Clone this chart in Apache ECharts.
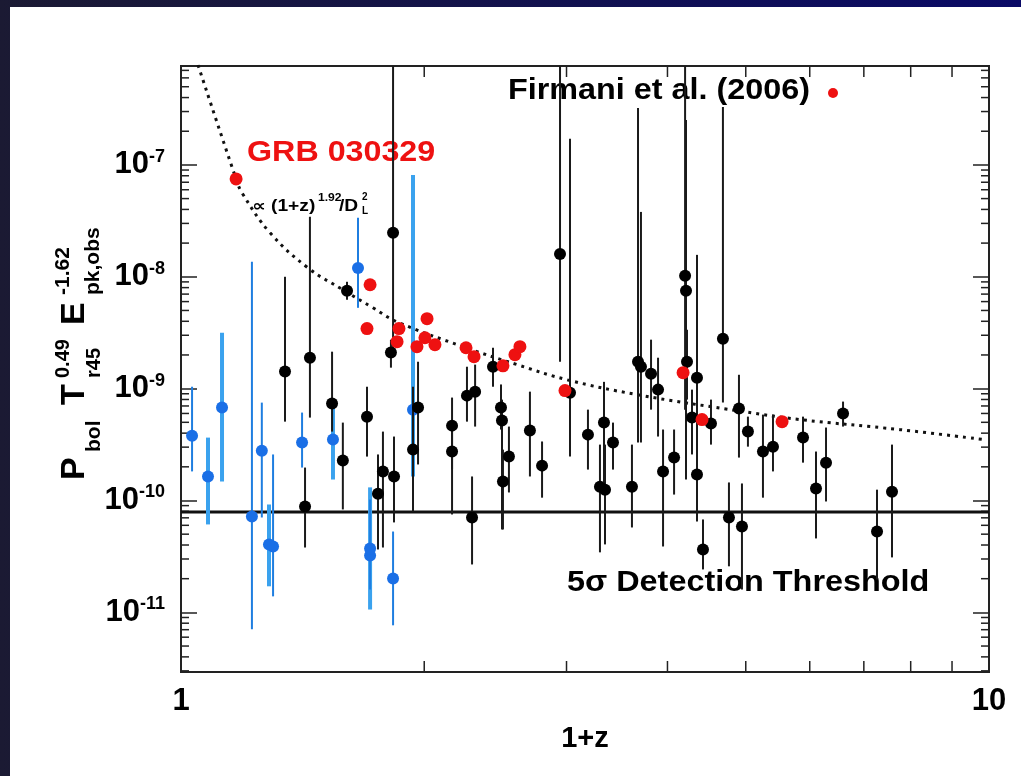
<!DOCTYPE html>
<html><head><meta charset="utf-8">
<script src="https://cdn.jsdelivr.net/npm/echarts@6/dist/echarts.min.js"></script>
<style>html,body{margin:0;padding:0;background:#fff}#c{width:1021px;height:776px}</style>
</head><body><div id="c"></div>
<script>
// ---- axis ranges & ticks ----
const X_MIN = 1, X_MAX = 10;
const Y_MIN = 2.93e-12, Y_MAX = 7.66e-7;
const xMinorTicks = [2, 3, 4, 5, 6, 7, 8, 9];
const yMinorTicks = [3e-12,4e-12,5e-12,6e-12,7e-12,8e-12,9e-12,
  2e-11,3e-11,4e-11,5e-11,6e-11,7e-11,8e-11,9e-11,
  2e-10,3e-10,4e-10,5e-10,6e-10,7e-10,8e-10,9e-10,
  2e-9,3e-9,4e-9,5e-9,6e-9,7e-9,8e-9,9e-9,
  2e-8,3e-8,4e-8,5e-8,6e-8,7e-8,8e-8,9e-8,
  2e-7,3e-7,4e-7,5e-7,6e-7,7e-7];

// ---- black points (with error bars) ----
const blackX  = [1.345,1.424,1.444,1.538,1.586,1.605,1.699,1.753,1.778,1.819,1.830,1.835,1.937,1.965,2.165,2.165,2.259,2.312,2.292,2.433,2.489,2.496,2.503,2.546,2.703,2.798,2.945,3.030,3.189,3.300,3.348,3.338,3.425,3.615,3.678,3.709,3.817,3.894,3.950,4.076,4.206,4.217,4.229,4.290,4.351,4.351,4.426,4.528,4.685,4.766,4.904,4.946,5.031,5.251,5.403,5.886,6.108,6.285,6.597,7.268,7.585];
const blackY  = [1.42e-9,8.84e-11,1.89e-9,7.35e-10,2.28e-10,7.50e-9,5.62e-10,1.15e-10,1.82e-10,2.10e-9,2.47e-8,1.64e-10,2.85e-10,6.77e-10,4.67e-10,2.74e-10,8.66e-10,9.40e-10,7.05e-11,1.57e-9,6.77e-10,5.18e-10,1.48e-10,2.47e-10,4.22e-10,2.05e-10,1.60e-8,9.21e-10,3.88e-10,1.33e-10,1.25e-10,4.97e-10,3.30e-10,1.33e-10,1.74e-9,1.57e-9,1.36e-9,9.80e-10,1.82e-10,2.42e-10,1.02e-8,7.50e-9,1.74e-9,5.51e-10,1.25e-9,1.71e-10,3.65e-11,4.87e-10,2.79e-9,7.05e-11,6.63e-10,5.86e-11,4.13e-10,2.74e-10,3.03e-10,3.65e-10,1.28e-10,2.18e-10,5.98e-10,5.28e-11,1.20e-10];
const blackHi = [1.0e-8,1.97e-10,3.44e-8,2.14e-9,4.97e-10,9.02e-9,1.04e-9,2.58e-10,4.13e-10,2.74e-9,1e-6,3.73e-10,1.04e-9,1.74e-9,8.32e-10,4.31e-10,1.57e-9,1.64e-9,1.64e-10,2.32e-9,1.09e-9,7.98e-10,2.85e-10,4.58e-10,9.40e-10,3.37e-10,1e-6,1.71e-7,6.49e-10,3.16e-10,3.16e-10,1.15e-9,4.97e-10,3.16e-10,3.23e-7,3.80e-8,2.74e-9,1.89e-9,4.31e-10,4.31e-10,1e-6,2.52e-7,3.36e-9,9.80e-10,1.57e-8,3.16e-10,6.77e-11,7.98e-10,3.30e-7,1.45e-10,1.33e-9,1.42e-10,5.62e-10,5.86e-10,5.86e-10,5.62e-10,2.74e-10,4.49e-10,7.66e-10,1.25e-10,3.16e-10];
const blackLo = [5.07e-10,3.80e-11,5.51e-10,4.13e-10,8.32e-11,6.23e-9,2.47e-10,3.65e-11,3.80e-11,1.54e-9,2.23e-9,6.37e-11,7.97e-11,2.10e-10,1.89e-10,7.50e-11,5.07e-10,4.58e-10,2.68e-11,1.04e-9,4.31e-10,5.51e-11,5.51e-11,1.18e-10,1.64e-10,1.06e-10,1.74e-9,2.47e-10,1.89e-10,3.44e-11,4.05e-11,1.45e-10,1.89e-10,5.74e-11,3.30e-10,3.30e-10,6.49e-10,3.73e-10,3.88e-11,1.13e-10,6.49e-10,1.54e-10,7.98e-10,2.58e-10,1.48e-10,6.49e-11,2.42e-11,3.16e-10,7.50e-10,2.58e-11,2.42e-10,1.60e-11,3.03e-10,1.06e-10,1.82e-10,2.18e-10,4.58e-11,9.80e-11,4.58e-10,1.97e-11,3.10e-11];

// ---- blue points (thin error bars / thick error bars) ----
const blueThinX  = [1.032,1.224,1.259,1.300,1.412,1.656,1.714,1.830];
const blueThinY  = [3.80e-10,7.20e-11,2.79e-10,3.88e-11,3.30e-10,1.20e-8,3.23e-11,2.01e-11];
const blueThinHi = [1.04e-9,1.36e-8,7.50e-10,2.58e-10,6.11e-10,3.37e-8,1.02e-10,5.28e-11];
const blueThinLo = [1.82e-10,7.05e-12,7.05e-11,1.39e-11,1.97e-10,5.28e-9,1.60e-11,7.66e-12];
const blueThickX  = [1.080,1.124,1.285,1.542,1.714,1.937];
const blueThickY  = [1.64e-10,6.77e-10,4.05e-11,3.51e-10,3.73e-11,6.49e-10];
const blueThickHi = [3.65e-10,3.16e-9,9.21e-11,6.91e-10,1.31e-10,8.14e-8];
const blueThickLo = [6.11e-11,1.48e-10,1.71e-11,1.54e-10,1.06e-11,1.64e-10];

// ---- red points: Firmani et al. (2006) ----
const redX = [1.170,1.714,1.699,1.861,1.851,2.016,1.959,2.004,2.062,2.253,2.305,2.503,2.590,2.627,2.987,4.182,4.414,5.545];
const redY = [7.50e-8,8.49e-9,3.44e-9,3.44e-9,2.63e-9,4.22e-9,2.37e-9,2.85e-9,2.47e-9,2.32e-9,1.93e-9,1.60e-9,2.01e-9,2.37e-9,9.60e-10,1.39e-9,5.29e-10,5.07e-10];

// ---- dotted curve  ∝ (1+z)^1.92 / D_L^2 ----
const curveX = [1.0497,1.170,1.190,1.289,1.436,1.586,1.728,1.851,2.234,2.605,3.004,3.667,4.962,5.836,7.761,9.83];
const curveY = [7.82e-7,7.50e-8,5.62e-8,2.47e-8,1.20e-8,7.66e-9,5.28e-9,3.96e-9,2.37e-9,1.64e-9,1.20e-9,8.84e-10,6.24e-10,5.29e-10,4.30e-10,3.51e-10];

// ---- 5 sigma detection threshold ----
const thresholdY = 7.9e-11;

const zip = (xs, ys) => xs.map((x, i) => [x, ys[i]]);
const zip3 = (xs, lo, hi) => xs.map((x, i) => [x, lo[i], hi[i]]);

const FONT = '"Liberation Sans", "DejaVu Sans", Arial, sans-serif';

function errBar(color, width) {
  return function (params, api) {
    const p1 = api.coord([api.value(0), api.value(1)]);
    const p2 = api.coord([api.value(0), api.value(2)]);
    return { type: 'line', shape: { x1: p1[0], y1: p1[1], x2: p2[0], y2: p2[1] },
      style: { stroke: color, lineWidth: width } };
  };
}

const chart = echarts.init(document.getElementById('c'), null, { renderer: 'canvas' });

const txt = (x, y, text, size, opts, sx) => ({
  type: 'text', x: x, y: y, silent: true, scaleX: sx || 1,
  style: Object.assign({ text: text, fill: '#000', fontFamily: FONT, fontWeight: 'bold', fontSize: size,
    align: 'left', verticalAlign: 'middle', textAlign: 'left', textVerticalAlign: 'middle' }, opts || {})
});

const option = {
  animation: false,
  backgroundColor: '#ffffff',
  graphic: [
    { type: 'rect', z: -10, silent: true, shape: { x: 0, y: 0, width: 1021, height: 776 },
      style: { fill: new echarts.graphic.LinearGradient(0, 0, 1, 0, [
        { offset: 0, color: '#1b1a33' }, { offset: 1, color: '#0a0a66' }]) } },
    { type: 'rect', z: -9, silent: true, shape: { x: 10, y: 7, width: 1011, height: 769 }, style: { fill: '#ffffff' } },
    // y-axis title (rotated)
    { type: 'group', x: 75, y: 480, rotation: Math.PI / 2, silent: true, children: [
      txt(0, 0, 'P', 34),
      txt(28, 19, 'bol', 21),
      txt(75, 0, 'T', 34),
      txt(102, -12, '0.49', 20),
      txt(102, 19, 'r45', 20),
      txt(155, 0, 'E', 34),
      txt(185, -12, '-1.62', 21),
      txt(185, 18, 'pk,obs', 21)
    ]},
    // annotations
    txt(247, 153, 'GRB 030329', 30, { fill: '#ee1111' }, 1.075),
    txt(252, 207, '\u221D (1+z)', 16, null, 1.2),
    txt(318, 198, '1.92', 11, null, 1.1),
    txt(339, 207, '/D', 16, null, 1.2),
    txt(362, 197, '2', 10),
    txt(362, 211, 'L', 10),
    txt(508, 91, 'Firmani et al. (2006)', 30, null, 1.078),
    { type: 'circle', silent: true, shape: { cx: 833, cy: 93, r: 5 }, style: { fill: '#ee1111' } },
    txt(567, 583, '5\u03C3 Detection Threshold', 30, null, 1.08)
  ],
  grid: { left: 181, right: 32, top: 66, bottom: 104, show: true, borderColor: '#222', borderWidth: 2, backgroundColor: 'transparent' },
  xAxis: [{
    type: 'log', logBase: 10, min: X_MIN, max: X_MAX,
    name: '1+z', nameLocation: 'middle', nameGap: 52,
    nameTextStyle: { color: '#000', fontFamily: FONT, fontWeight: 'bold', fontSize: 29 },
    axisLine: { show: true, lineStyle: { color: '#222', width: 2 } },
    axisTick: { show: false },
    splitLine: { show: false },
    axisLabel: { color: '#000', fontFamily: FONT, fontWeight: 'bold', fontSize: 31, margin: 14,
      showMinLabel: true, showMaxLabel: true, formatter: v => String(Math.round(v)) }
  }],
  yAxis: [{
    type: 'log', logBase: 10, min: Y_MIN, max: Y_MAX,
    axisLine: { show: true, lineStyle: { color: '#222', width: 2 } },
    axisTick: { show: true, inside: true, length: 16, lineStyle: { color: '#222', width: 1.5 } },
    splitLine: { show: false },
    axisLabel: { margin: 16, showMinLabel: false, showMaxLabel: false,
      formatter: v => '{b|10}{s|' + Math.round(Math.log10(v)) + '}',
      rich: {
        b: { fontFamily: FONT, fontWeight: 'bold', fontSize: 31, color: '#000', lineHeight: 34, verticalAlign: 'middle' },
        s: { fontFamily: FONT, fontWeight: 'bold', fontSize: 18, color: '#000', lineHeight: 20, verticalAlign: 'top' }
      } }
  }, {
    type: 'log', logBase: 10, min: Y_MIN, max: Y_MAX, position: 'right',
    axisLine: { show: true, lineStyle: { color: '#222', width: 2 } },
    axisTick: { show: true, inside: true, length: 16, lineStyle: { color: '#222', width: 1.5 } },
    splitLine: { show: false },
    axisLabel: { show: false }
  }],
  series: [
    { type: 'custom', name: 'xminor', clip: false, silent: true, z: 1,
      data: xMinorTicks.map(v => [v, Y_MIN]),
      renderItem: (params, api) => {
        const b = api.coord([api.value(0), Y_MIN]);
        const t = api.coord([api.value(0), Y_MAX]);
        return { type: 'group', children: [
          { type: 'line', shape: { x1: b[0], y1: b[1], x2: b[0], y2: b[1] - 11 }, style: { stroke: '#222', lineWidth: 1.5 } },
          { type: 'line', shape: { x1: t[0], y1: t[1], x2: t[0], y2: t[1] + 11 }, style: { stroke: '#222', lineWidth: 1.5 } }
        ]};
      } },
    { type: 'custom', name: 'yminor', clip: false, silent: true, z: 1,
      data: yMinorTicks.map(v => [X_MIN, v]),
      renderItem: (params, api) => {
        const l = api.coord([X_MIN, api.value(1)]);
        const r = api.coord([X_MAX, api.value(1)]);
        return { type: 'group', children: [
          { type: 'line', shape: { x1: l[0], y1: l[1], x2: l[0] + 8, y2: l[1] }, style: { stroke: '#222', lineWidth: 1.5 } },
          { type: 'line', shape: { x1: r[0], y1: r[1], x2: r[0] - 8, y2: r[1] }, style: { stroke: '#222', lineWidth: 1.5 } }
        ]};
      } },
    { type: 'line', name: 'threshold', data: [[X_MIN, thresholdY], [X_MAX, thresholdY]], symbol: 'none', silent: true,
      lineStyle: { color: '#111', width: 3 }, z: 3 },
    { type: 'line', name: 'curve', data: zip(curveX, curveY), smooth: 0.4, symbol: 'none', silent: true, clip: true,
      lineStyle: { color: '#111', width: 3, type: [3, 5] }, z: 3 },
    { type: 'custom', name: 'blueThickErr', clip: true, silent: true, z: 4,
      data: zip3(blueThickX, blueThickLo, blueThickHi), encode: { x: 0, y: [1, 2] }, renderItem: errBar('#3aa2ee', 4) },
    { type: 'custom', name: 'blueThinErr', clip: true, silent: true, z: 4,
      data: zip3(blueThinX, blueThinLo, blueThinHi), encode: { x: 0, y: [1, 2] }, renderItem: errBar('#1f7ee0', 2) },
    { type: 'scatter', name: 'blue', data: zip(blueThinX, blueThinY).concat(zip(blueThickX, blueThickY)),
      symbol: 'circle', symbolSize: 12, itemStyle: { color: '#1a6fe6', opacity: 1 }, silent: true, z: 5 },
    { type: 'custom', name: 'blackErr', clip: true, silent: true, z: 6,
      data: zip3(blackX, blackLo, blackHi), encode: { x: 0, y: [1, 2] }, renderItem: errBar('#1a1a1a', 2) },
    { type: 'scatter', name: 'black', data: zip(blackX, blackY), symbol: 'circle', symbolSize: 12,
      itemStyle: { color: '#000', opacity: 1 }, silent: true, z: 7 },
    { type: 'scatter', name: 'Firmani et al. (2006)', data: zip(redX, redY), symbol: 'circle', symbolSize: 13,
      itemStyle: { color: '#ee1111', opacity: 1 }, silent: true, z: 8 }
  ]
};
chart.setOption(option);
</script>
</body></html>
